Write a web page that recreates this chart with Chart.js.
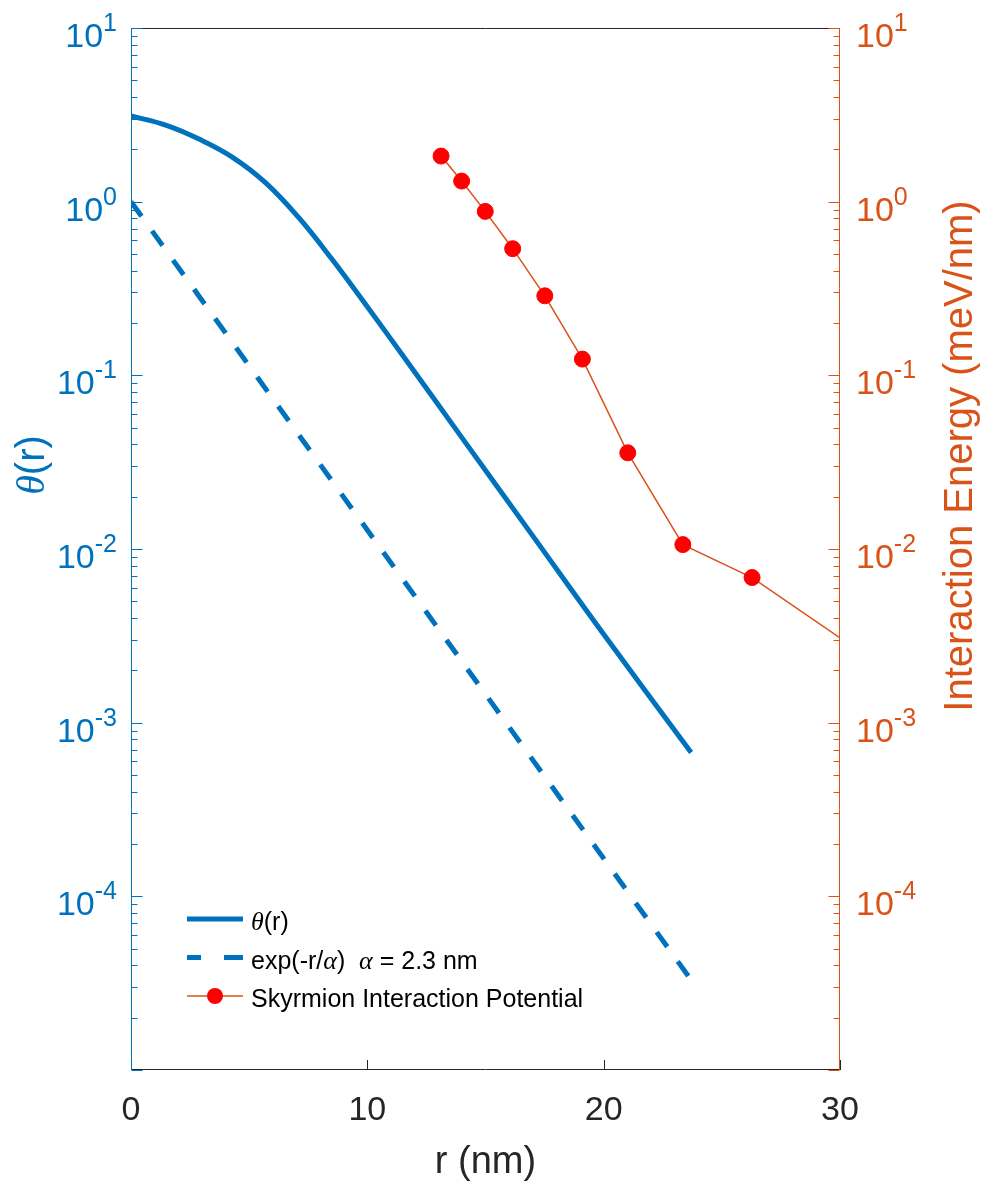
<!DOCTYPE html>
<html lang="en">
<head>
    <meta charset="UTF-8">
    <title>Skyrmion profile and interaction energy</title>
    <script src="https://cdn.jsdelivr.net/npm/chart.js"></script>
    <style>
        body {
            margin: 0;
            padding: 0;
            background: #fff;
        }
        #wrap {
            width: 983px;
            height: 1184px;
        }
    </style>
</head>
<body>
    <div id="wrap">
        <canvas id="skyChart" width="983" height="1184"></canvas>
    </div>

    <script>
        // theta(r) profile
        const rTheta = [0, 1.5, 2.9, 4.3, 5.7, 7.1, 8.5, 10, 11.5, 14, 17, 20, 23.7];
        const theta = [3.12, 2.75, 2.285, 1.80, 1.283, 0.809, 0.467, 0.248, 0.130, 0.0438, 0.0119, 0.00323, 0.000673];

        // exp(-r/alpha) reference line (straight on log axis)
        const rExp = [0, 23.7];
        const expVals = [1, 0.000033];

        // skyrmion interaction potential (right axis)
        const rSky = [13.12, 13.99, 14.99, 16.15, 17.51, 19.10, 21.02, 23.35, 26.28, 32];
        const energy = [1.83, 1.314, 0.879, 0.536, 0.287, 0.124, 0.0358, 0.0106, 0.00685, 0.0020];

        const xTicks = [0, 10, 20, 30];
        const labelExps = [1, 0, -1, -2, -3, -4];
        const decadeExps = [-5, -4, -3, -2, -1, 0, 1];

        const BLUE = '#0072BD';
        const ORANGE = '#D95319';
        const DARK = '#262626';
        const SANS = '"Liberation Sans", Arial, sans-serif';
        const SERIF = '"Liberation Serif", "Times New Roman", serif';

        const pts = (xs, ys) => xs.map((x, i) => ({ x: x, y: ys[i] }));

        // draw a run of [text, font] pieces starting at x
        function drawPieces(ctx, pieces, x, y) {
            pieces.forEach(p => {
                ctx.font = p[1];
                ctx.fillText(p[0], x, y);
                x += ctx.measureText(p[0]).width;
            });
            return x;
        }
        function piecesWidth(ctx, pieces) {
            let w = 0;
            pieces.forEach(p => { ctx.font = p[1]; w += ctx.measureText(p[0]).width; });
            return w;
        }

        function drawPow(ctx, exp, x, y, align, color) {
            const big = '34px ' + SANS, small = '25px ' + SANS;
            ctx.font = big;
            const bw = ctx.measureText('10').width;
            ctx.font = small;
            const sw = ctx.measureText(String(exp)).width;
            const x0 = align === 'right' ? x - bw - sw : x;
            ctx.fillStyle = color;
            ctx.textAlign = 'left';
            ctx.textBaseline = 'alphabetic';
            ctx.font = big;
            ctx.fillText('10', x0, y + 19);
            ctx.font = small;
            ctx.fillText(String(exp), x0 + bw, y + 3);
        }

        const axesPlugin = {
            id: 'matlabAxes',
            afterDraw(chart) {
                const ctx = chart.ctx;
                const a = chart.chartArea;
                const xs = chart.scales.x, yl = chart.scales.y, yr = chart.scales.y2;
                ctx.save();

                // box
                ctx.lineWidth = 1;
                ctx.strokeStyle = DARK;
                ctx.beginPath();
                ctx.moveTo(a.left, a.top + 0.5); ctx.lineTo(a.right, a.top + 0.5);
                ctx.moveTo(a.left, a.bottom - 0.5); ctx.lineTo(a.right, a.bottom - 0.5);
                ctx.stroke();

                // x ticks
                xTicks.forEach(v => {
                    const px = Math.round(xs.getPixelForValue(v)) + 0.5;
                    ctx.beginPath();
                    ctx.moveTo(px, a.bottom); ctx.lineTo(px, a.bottom - 10);
                    ctx.stroke();
                });
                ctx.fillStyle = DARK;
                ctx.font = '34px ' + SANS;
                ctx.textAlign = 'center';
                ctx.textBaseline = 'alphabetic';
                xTicks.forEach(v => ctx.fillText(String(v), xs.getPixelForValue(v), a.bottom + 50));

                // left and right log axes
                [[yl, BLUE, a.left + 0.5, 1], [yr, ORANGE, a.right - 0.5, -1]].forEach(s => {
                    const sc = s[0], col = s[1], ax = s[2], dir = s[3];
                    ctx.strokeStyle = col;
                    ctx.lineWidth = 1;
                    ctx.beginPath();
                    ctx.moveTo(ax, a.top); ctx.lineTo(ax, a.bottom);
                    decadeExps.forEach(d => {
                        const base = Math.pow(10, d);
                        const py = Math.round(sc.getPixelForValue(base)) + 0.5;
                        ctx.moveTo(ax, py); ctx.lineTo(ax + dir * 11, py);
                        if (d < 1) {
                            for (let k = 2; k <= 9; k++) {
                                const my = Math.round(sc.getPixelForValue(k * base)) + 0.5;
                                ctx.moveTo(ax, my); ctx.lineTo(ax + dir * 6, my);
                            }
                        }
                    });
                    ctx.stroke();
                });
                labelExps.forEach(d => {
                    drawPow(ctx, d, a.left - 14, yl.getPixelForValue(Math.pow(10, d)), 'right', BLUE);
                    drawPow(ctx, d, a.right + 16, yr.getPixelForValue(Math.pow(10, d)), 'left', ORANGE);
                });

                // axis titles
                ctx.fillStyle = DARK;
                ctx.font = '38px ' + SANS;
                ctx.textAlign = 'center';
                ctx.fillText('r (nm)', (a.left + a.right) / 2, 1173);

                ctx.textAlign = 'left';
                const leftTitle = [['\u03b8', 'italic 40px ' + SERIF], ['(r)', '40px ' + SANS]];
                ctx.save();
                ctx.translate(44, 465);
                ctx.rotate(-Math.PI / 2);
                ctx.fillStyle = BLUE;
                drawPieces(ctx, leftTitle, -piecesWidth(ctx, leftTitle) / 2, 0);
                ctx.restore();

                ctx.save();
                ctx.translate(972, 456);
                ctx.rotate(-Math.PI / 2);
                ctx.fillStyle = ORANGE;
                ctx.font = '40px ' + SANS;
                ctx.textAlign = 'center';
                ctx.fillText('Interaction Energy (meV/nm)', 0, 0);
                ctx.restore();

                // legend
                const lx0 = a.left + 56, lx1 = a.left + 112, tx = a.left + 120;
                const rows = [a.bottom - 151, a.bottom - 112.5, a.bottom - 74];
                const ds = chart.data.datasets;
                ctx.lineCap = 'butt';

                ctx.strokeStyle = ds[0].borderColor;
                ctx.lineWidth = ds[0].borderWidth;
                ctx.beginPath(); ctx.moveTo(lx0, rows[0]); ctx.lineTo(lx1, rows[0]); ctx.stroke();

                ctx.strokeStyle = ds[1].borderColor;
                ctx.lineWidth = ds[1].borderWidth;
                ctx.setLineDash([14, 23, 19, 14, 23, 19]);
                ctx.beginPath(); ctx.moveTo(lx0, rows[1]); ctx.lineTo(lx1, rows[1]); ctx.stroke();
                ctx.setLineDash([]);

                ctx.strokeStyle = ds[2].borderColor;
                ctx.lineWidth = ds[2].borderWidth;
                ctx.beginPath(); ctx.moveTo(lx0, rows[2]); ctx.lineTo(lx1, rows[2]); ctx.stroke();
                ctx.fillStyle = ds[2].pointBackgroundColor;
                ctx.beginPath(); ctx.arc((lx0 + lx1) / 2, rows[2], ds[2].pointRadius, 0, Math.PI * 2); ctx.fill();

                ctx.fillStyle = '#000';
                ctx.textAlign = 'left';
                ctx.textBaseline = 'alphabetic';
                const f = '25px ' + SANS, fi = 'italic 26px ' + SERIF;
                drawPieces(ctx, [['\u03b8', fi], ['(r)', f]], tx, rows[0] + 11);
                drawPieces(ctx, [['exp(-r/', f], ['\u03b1', fi], [')', f], ['  ', f], ['\u03b1', fi], [' = 2.3 nm', f]], tx, rows[1] + 11);
                drawPieces(ctx, [['Skyrmion Interaction Potential', f]], tx, rows[2] + 11);

                ctx.restore();
            }
        };

        const ctx = document.getElementById('skyChart').getContext('2d');
        new Chart(ctx, {
            type: 'line',
            data: {
                datasets: [
                    {
                        label: '\u03b8(r)',
                        data: pts(rTheta, theta),
                        yAxisID: 'y',
                        borderColor: BLUE,
                        borderWidth: 5,
                        pointRadius: 0,
                        tension: 0.4,
                        fill: false
                    },
                    {
                        label: 'exp(-r/\u03b1) \u03b1 = 2.3 nm',
                        data: pts(rExp, expVals),
                        yAxisID: 'y',
                        borderColor: BLUE,
                        borderWidth: 5,
                        borderDash: [18, 18],
                        borderCapStyle: 'butt',
                        pointRadius: 0,
                        fill: false
                    },
                    {
                        label: 'Skyrmion Interaction Potential',
                        data: pts(rSky, energy),
                        yAxisID: 'y2',
                        borderColor: ORANGE,
                        borderWidth: 1.5,
                        pointRadius: 8,
                        pointBackgroundColor: '#FF0000',
                        pointBorderColor: '#FF0000',
                        pointBorderWidth: 1,
                        tension: 0,
                        clip: 0,
                        fill: false
                    }
                ]
            },
            options: {
                responsive: false,
                animation: false,
                events: [],
                layout: {
                    padding: { left: 131, right: 143, top: 28, bottom: 114 }
                },
                plugins: {
                    legend: { display: false },
                    tooltip: { enabled: false }
                },
                scales: {
                    x: { type: 'linear', min: 0, max: 30, display: false },
                    y: { type: 'logarithmic', min: 1e-5, max: 10, display: false },
                    y2: { type: 'logarithmic', position: 'right', min: 1e-5, max: 10, display: false }
                }
            },
            plugins: [axesPlugin]
        });
    </script>
</body>
</html>
